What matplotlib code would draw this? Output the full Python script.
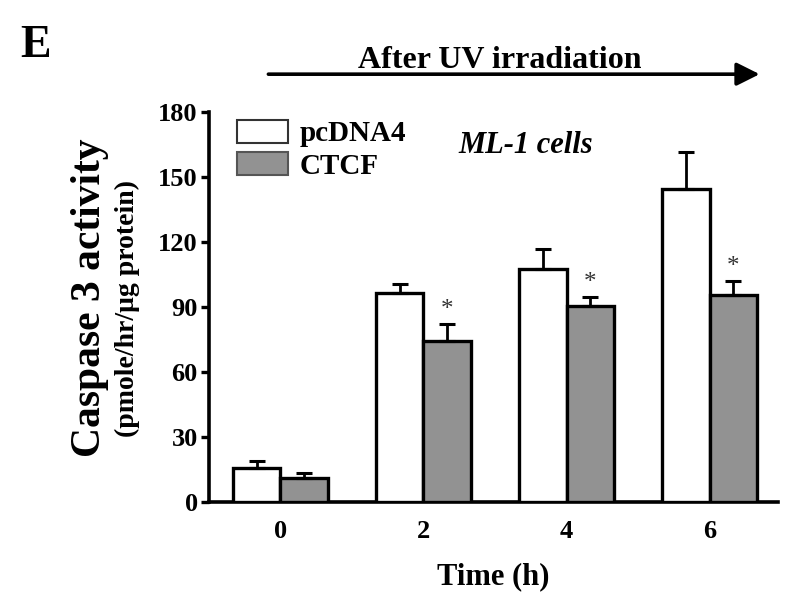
import matplotlib as mpl
mpl.use('agg')
import matplotlib.pyplot as plt
from matplotlib.patches import Patch, FancyArrowPatch
import numpy as np

TIMES = ['0', '2', '4', '6']
PCDNA4 = [15.7, 96.5, 107.5, 144.5]
PCDNA4_ERR = [3.2, 4.1, 9.3, 17.0]
CTCF = [11.1, 74.3, 90.5, 95.5]
CTCF_ERR = [2.3, 7.9, 4.1, 6.5]
SIGNIF = [False, True, True, True]
YTICKS = [0, 30, 60, 90, 120, 150, 180]

GREY = '#929292'
SERIF = ['Liberation Serif', 'DejaVu Serif']


def main():
    """Caspase 3 activity bar chart, panel E"""
    plt.rcParams['font.family'] = SERIF
    plt.rcParams['font.weight'] = 'bold'
    plt.rcParams['axes.labelweight'] = 'bold'

    fig = plt.figure(figsize=(8, 6.08), dpi=100)
    axes = fig.add_axes([0.261, 0.174, 0.712, 0.642])

    xpos = np.arange(len(TIMES))
    width = 0.33
    kwbar = {'edgecolor': 'k', 'linewidth': 2.4, 'zorder': 3}
    axes.bar(xpos - width/2, PCDNA4, width, color='white', **kwbar)
    # dark shadow on the left of the grey bars
    axes.bar(xpos + width/2 - 0.03, CTCF, width, color='k', linewidth=0, zorder=2)
    axes.bar(xpos + width/2, CTCF, width, color=GREY, **kwbar)

    kwerr = {'fmt': 'none', 'ecolor': 'k', 'elinewidth': 2, 'capsize': 6,
             'capthick': 2.2, 'zorder': 4}
    axes.errorbar(xpos - width/2, PCDNA4, yerr=[np.zeros(4), PCDNA4_ERR], **kwerr)
    axes.errorbar(xpos + width/2, CTCF, yerr=[np.zeros(4), CTCF_ERR], **kwerr)

    for xval, yval, err, sig in zip(xpos, CTCF, CTCF_ERR, SIGNIF):
        if sig:
            axes.text(xval + width/2, yval + err + 1.5, '*', ha='center', va='bottom',
                      fontsize=18, color='#333333', fontweight='normal')

    axes.set_xlim(-0.5, 3.48)
    axes.set_ylim(0, 180)
    axes.set_xticks(xpos)
    axes.set_xticklabels(TIMES)
    axes.set_yticks(YTICKS)
    axes.tick_params(axis='x', length=0, labelsize=19, pad=13)
    axes.tick_params(axis='y', length=6, width=2.4, labelsize=19, pad=2)
    for name in ['top', 'right']:
        axes.spines[name].set_visible(False)
    for name in ['left', 'bottom']:
        axes.spines[name].set_linewidth(2.6)

    axes.set_xlabel('Time (h)', fontsize=22, labelpad=14)
    fig.text(0.112, 0.511, 'Caspase 3 activity', rotation=90, fontsize=30,
             ha='center', va='center')
    fig.text(0.159, 0.492, '(pmole/hr/\u03bcg protein)', rotation=90, fontsize=20,
             ha='center', va='center')

    handles = [Patch(facecolor='white', edgecolor='#333333', linewidth=1.5),
               Patch(facecolor=GREY, edgecolor='#555555', linewidth=1.5)]
    axes.legend(handles, ['pcDNA4', 'CTCF'], loc='upper left',
                bbox_to_anchor=(0.049, 0.98), frameon=False, fontsize=21,
                handlelength=1.76, handleheight=0.86, labelspacing=0.15,
                handletextpad=0.4, borderpad=0.0, borderaxespad=0.0)

    axes.text(0.557, 0.913, 'ML-1 cells', transform=axes.transAxes, fontsize=22,
              style='italic', ha='center', va='center')

    fig.text(0.045, 0.925, 'E', fontsize=33, ha='center', va='center')
    fig.text(0.625, 0.9, 'After UV irradiation', fontsize=23, ha='center', va='center')
    fig.patches.append(FancyArrowPatch(
        (0.332, 0.878), (0.953, 0.878), transform=fig.transFigure,
        arrowstyle='-|>,head_length=0.7,head_width=0.35', linewidth=2.6,
        color='k', mutation_scale=20))

    fig.savefig('out.png', dpi=100)


if __name__ == '__main__':
    main()
